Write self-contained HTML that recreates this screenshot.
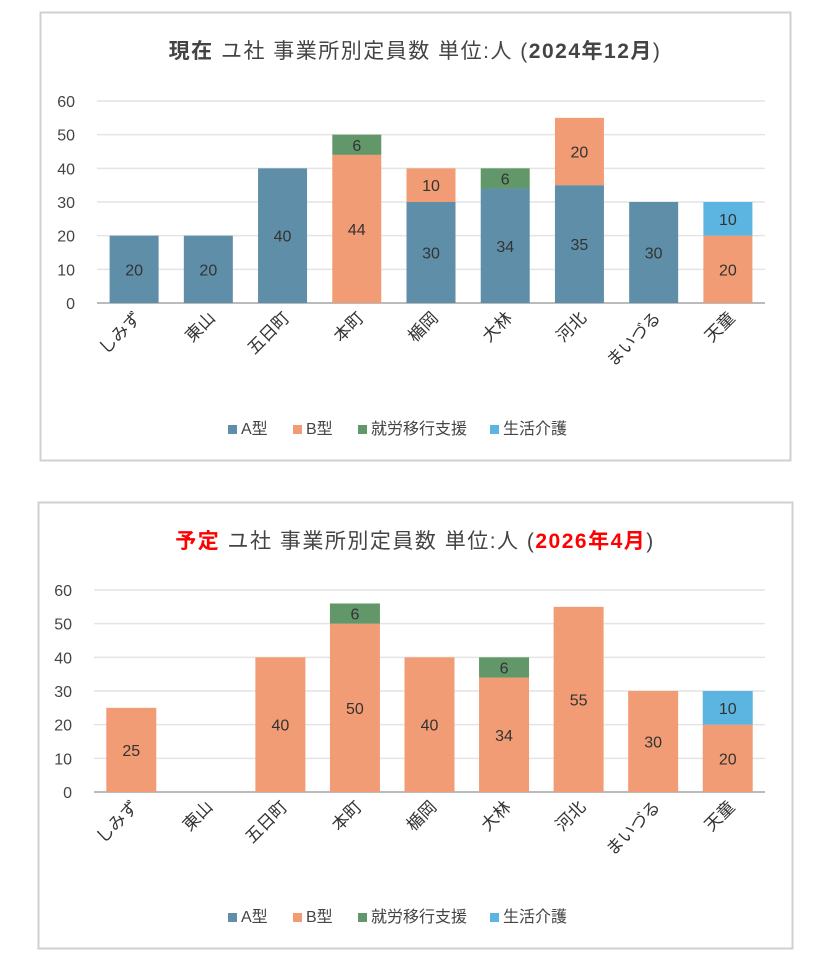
<!DOCTYPE html>
<html><head><meta charset="utf-8">
<style>
body{margin:0;background:#fff;width:833px;height:963px;overflow:hidden;font-family:"Liberation Sans","Noto Sans CJK JP",sans-serif;}
svg{position:absolute;left:0;top:0}
</style></head>
<body>
<svg id="s" width="833" height="963" xmlns="http://www.w3.org/2000/svg">
<rect x="40.5" y="12.5" width="750" height="448" fill="#fff" stroke="#d0d0d0" stroke-width="2"/>
<rect x="38.5" y="502.5" width="754" height="446" fill="#fff" stroke="#d0d0d0" stroke-width="2"/>
<text x="415" y="58" text-anchor="middle" font-size="21" fill="#444" letter-spacing="1.5"><tspan font-weight="bold">現在</tspan> ユ社 事業所別定員数 単位:人 (<tspan font-weight="bold">2024年12月</tspan>)</text>
<text x="415" y="548" text-anchor="middle" font-size="21" fill="#444" letter-spacing="1.5"><tspan font-weight="bold" fill="#ff0000">予定</tspan> ユ社 事業所別定員数 単位:人 (<tspan font-weight="bold" fill="#ff0000">2026年4月</tspan>)</text>
<g id="c1"></g><g id="c2"></g>
</svg>
<script>
const categories=["しみず","東山","五日町","本町","楯岡","大林","河北","まいづる","天童"];
const seriesNames=["A型","B型","就労移行支援","生活介護"];
const colors=["#5f8ea8","#f19c74","#62976a","#5cb4e0"];
const ticks=[0,10,20,30,40,50,60];
const c1A=[20,20,40,0,30,34,35,30,0];
const c1B=[0,0,0,44,10,0,20,0,20];
const c1G=[0,0,0,6,0,6,0,0,0];
const c1C=[0,0,0,0,0,0,0,0,10];
const c2A=[0,0,0,0,0,0,0,0,0];
const c2B=[25,0,40,50,40,34,55,30,20];
const c2G=[0,0,0,6,0,6,0,0,0];
const c2C=[0,0,0,0,0,0,0,0,10];
const NS="http://www.w3.org/2000/svg";
function mk(p,tag,at,txt){const e=document.createElementNS(NS,tag);for(const k in at)e.setAttribute(k,at[k]);if(txt!=null)e.textContent=txt;p.appendChild(e);return e;}
function draw(gid,pre,series,x0,x1,y0,ymax,legY,bw){
 const g=document.getElementById(gid);
 const y=v=>y0-(v/60)*(y0-ymax);
 const cw=(x1-x0)/categories.length;
 const cx=i=>x0+cw*(i+0.5);
 ticks.forEach(t=>{
  const l=mk(g,"line",{x1:x0,x2:x1,y1:y(t),y2:y(t),stroke:t===0?"#bbb":"#e4e4e4","stroke-width":t===0?2:1.5});
  
  
  const tx=mk(g,"text",{x:x0-22,y:y(t)+6,"text-anchor":"end","font-size":16,fill:"#444"},t);
  
  
 });
 categories.forEach((c,i)=>{
  let acc=0;
  series.forEach((arr,s)=>{
   const v=arr[i]; if(!v)return;
   const r=mk(g,"rect",{x:cx(i)-bw/2,y:y(acc+v),width:bw,height:y(acc)-y(acc+v),fill:colors[s]});
   
   
   const t=mk(g,"text",{x:cx(i),y:(y(acc)+y(acc+v))/2+6,"text-anchor":"middle","font-size":16,fill:"#333"},v);
   
   
   acc+=v;
  });
  const lab=mk(g,"text",{x:cx(i)+8,y:y0+16,"text-anchor":"end","font-size":17,fill:"#333",transform:`rotate(-45 ${cx(i)+8} ${y0+16})`},c);
  
  
 });
 const lx=[228,293,358,490];
 seriesNames.forEach((n,s)=>{
  const r=mk(g,"rect",{x:lx[s],y:legY-9,width:9,height:9,fill:colors[s]});
  
  
  const t=mk(g,"text",{x:lx[s]+13,y:legY,"font-size":16,fill:"#444"},n);
  
  
 });
}
draw("c1","chart1-",[c1A,c1B,c1G,c1C],97,765,303,101,434,49);
draw("c2","chart2-",[c2A,c2B,c2G,c2C],94,765,792,590,922,50);
</script>
</body></html>
